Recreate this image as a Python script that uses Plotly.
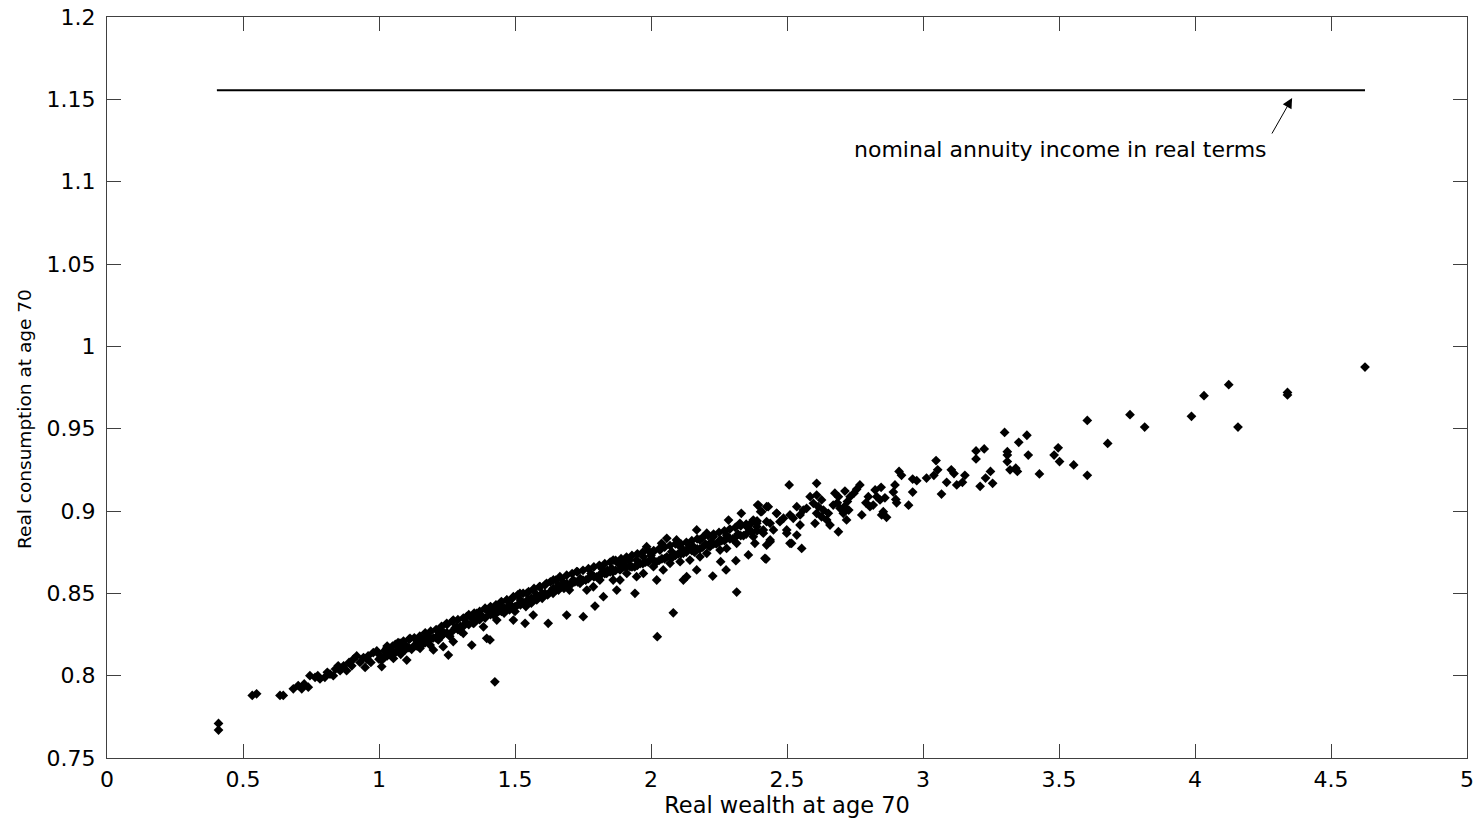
import plotly.graph_objects as go

# ---------------- data ----------------
# (real wealth at age 70, real consumption at age 70)
tail_low = [
    (0.41, 0.771), (0.41, 0.767), (0.534, 0.788), (0.55, 0.789), (0.636, 0.788),
    (0.648, 0.788), (0.685, 0.792), (0.703, 0.794), (0.716, 0.792), (0.725, 0.795),
    (0.74, 0.793), (0.746, 0.800), (0.765, 0.799), (0.775, 0.800), (0.783, 0.798),
    (0.801, 0.799), (0.81, 0.802), (0.82, 0.801), (0.832, 0.800), (0.84, 0.804),
    (0.85, 0.806), (0.857, 0.803), (0.87, 0.806), (0.881, 0.803), (0.89, 0.808),
    (0.90, 0.806), (0.906, 0.810), (0.918, 0.812), (0.93, 0.808), (0.943, 0.811),
    (0.949, 0.805), (0.955, 0.810), (0.96, 0.812), (0.97, 0.808), (0.979, 0.814),
    (0.992, 0.815),
]

band_1 = [
    (1.00, 0.813), (1.00, 0.810), (1.01, 0.8095), (1.01, 0.8055), (1.02, 0.815),
    (1.02, 0.811), (1.028, 0.8166), (1.04, 0.8136), (1.04, 0.816), (1.053, 0.8105),
    (1.06, 0.814), (1.06, 0.819), (1.077, 0.8197), (1.08, 0.817), (1.08, 0.813),
    (1.096, 0.8156), (1.10, 0.818), (1.102, 0.8095), (1.114, 0.8227), (1.12, 0.816),
    (1.126, 0.8176), (1.14, 0.821), (1.14, 0.818), (1.151, 0.8166), (1.16, 0.822),
    (1.16, 0.819), (1.175, 0.8217), (1.18, 0.824), (1.188, 0.8186), (1.20, 0.823),
    (1.20, 0.8156), (1.218, 0.8217), (1.224, 0.8277), (1.22, 0.825), (1.236, 0.8176),
    (1.24, 0.826), (1.249, 0.8318), (1.255, 0.8125), (1.26, 0.824), (1.273, 0.8338),
    (1.273, 0.8207), (1.28, 0.829), (1.285, 0.8297), (1.30, 0.830), (1.30, 0.827),
    (1.31, 0.8257), (1.322, 0.8358), (1.32, 0.832), (1.341, 0.8186), (1.347, 0.8318),
    (1.34, 0.835), (1.359, 0.8378), (1.36, 0.834), (1.384, 0.8297), (1.38, 0.836),
    (1.396, 0.8227), (1.408, 0.8217), (1.40, 0.839), (1.421, 0.8399), (1.426, 0.7963),
    (1.433, 0.8338), (1.42, 0.837),
]

band_2 = [
    (1.44, 0.839), (1.44, 0.842), (1.445, 0.8439), (1.46, 0.841), (1.46, 0.838),
    (1.47, 0.8459), (1.48, 0.840), (1.48, 0.843), (1.494, 0.848), (1.494, 0.8338),
    (1.50, 0.842), (1.50, 0.839), (1.518, 0.850), (1.52, 0.843), (1.52, 0.846),
    (1.537, 0.8318), (1.543, 0.850), (1.54, 0.845), (1.54, 0.842), (1.56, 0.847),
    (1.567, 0.8368), (1.567, 0.852), (1.56, 0.844), (1.58, 0.846), (1.592, 0.854),
    (1.58, 0.849), (1.60, 0.850), (1.60, 0.847), (1.616, 0.8561), (1.622, 0.8318),
    (1.62, 0.849), (1.64, 0.853), (1.641, 0.8581), (1.64, 0.850), (1.665, 0.8601),
    (1.66, 0.852), (1.66, 0.855), (1.68, 0.856), (1.69, 0.8368), (1.69, 0.8561),
    (1.68, 0.853), (1.70, 0.855), (1.714, 0.8581), (1.70, 0.852), (1.727, 0.8632),
    (1.72, 0.857), (1.739, 0.8561), (1.751, 0.8358), (1.74, 0.859), (1.764, 0.852),
    (1.76, 0.858), (1.776, 0.8601), (1.78, 0.862), (1.788, 0.854), (1.794, 0.8423),
    (1.80, 0.860), (1.812, 0.8581), (1.825, 0.848), (1.82, 0.862), (1.82, 0.865),
]

band_3 = [
    (1.837, 0.8621), (1.84, 0.864), (1.855, 0.8652), (1.861, 0.8702), (1.861, 0.8581),
    (1.874, 0.852), (1.86, 0.863), (1.886, 0.8642), (1.886, 0.8581), (1.88, 0.868),
    (1.898, 0.8682), (1.90, 0.866), (1.911, 0.8621), (1.92, 0.870), (1.923, 0.8662),
    (1.941, 0.850), (1.947, 0.8702), (1.947, 0.8601), (1.94, 0.866), (1.96, 0.868),
    (1.972, 0.8722), (1.972, 0.8621), (1.98, 0.869), (1.984, 0.8783), (1.996, 0.8702),
    (2.00, 0.873), (2.009, 0.8662), (2.009, 0.8753), (2.021, 0.8581), (2.023, 0.8237),
    (2.02, 0.869), (2.033, 0.8763), (2.039, 0.8804), (2.045, 0.8642), (2.04, 0.871),
    (2.058, 0.8834), (2.058, 0.8722), (2.07, 0.8682), (2.076, 0.8753), (2.082, 0.8382),
    (2.094, 0.8824), (2.08, 0.872), (2.107, 0.8783), (2.107, 0.8692), (2.10, 0.874),
    (2.119, 0.8743), (2.119, 0.8581), (2.131, 0.8601), (2.12, 0.876), (2.143, 0.8702),
    (2.14, 0.878), (2.156, 0.8783), (2.168, 0.8885), (2.168, 0.8642), (2.16, 0.875),
]

band_4 = [
    (2.18, 0.8824), (2.18, 0.8722), (2.18, 0.877), (2.205, 0.8865), (2.205, 0.8743),
    (2.20, 0.880), (2.217, 0.8783), (2.227, 0.8605), (2.229, 0.8844), (2.22, 0.881),
    (2.254, 0.8824), (2.254, 0.8763), (2.256, 0.8692), (2.24, 0.880), (2.276, 0.8642),
    (2.278, 0.8854), (2.278, 0.8773), (2.285, 0.8945), (2.26, 0.882), (2.28, 0.884),
    (2.312, 0.8698), (2.315, 0.8804), (2.315, 0.8508), (2.30, 0.883), (2.327, 0.8925),
    (2.332, 0.8986), (2.32, 0.886), (2.352, 0.8905), (2.358, 0.8733), (2.34, 0.885),
    (2.364, 0.8885), (2.376, 0.8844), (2.376, 0.8945), (2.382, 0.8804), (2.389, 0.8905),
    (2.389, 0.8925), (2.392, 0.9036), (2.395, 0.9036), (2.403, 0.8996), (2.407, 0.8996),
    (2.413, 0.8865), (2.413, 0.8885), (2.419, 0.8713), (2.423, 0.8708), (2.425, 0.8935),
    (2.425, 0.9026), (2.425, 0.8793), (2.431, 0.9026), (2.438, 0.8814), (2.438, 0.8925),
    (2.438, 0.8824), (2.45, 0.8885), (2.462, 0.8986), (2.462, 0.8986), (2.474, 0.8935),
]

band_5 = [
    (2.487, 0.8956), (2.499, 0.8885), (2.499, 0.8865), (2.508, 0.9158), (2.511, 0.8976),
    (2.511, 0.8804), (2.517, 0.8804), (2.523, 0.8956), (2.536, 0.9026), (2.536, 0.8854),
    (2.548, 0.8976), (2.548, 0.8915), (2.554, 0.8773), (2.56, 0.9006), (2.572, 0.9016),
    (2.585, 0.9087), (2.597, 0.9047), (2.603, 0.8925), (2.609, 0.9168), (2.609, 0.9097),
    (2.609, 0.8986), (2.615, 0.9026), (2.627, 0.9067), (2.627, 0.8965), (2.634, 0.9006),
    (2.646, 0.8946), (2.652, 0.8986), (2.658, 0.8915), (2.67, 0.9036), (2.676, 0.9108),
    (2.685, 0.905), (2.689, 0.9087), (2.689, 0.8874), (2.695, 0.9016), (2.707, 0.8986),
    (2.711, 0.9026), (2.713, 0.9121), (2.719, 0.8946), (2.722, 0.9057), (2.727, 0.9006),
    (2.732, 0.9087), (2.746, 0.9108), (2.756, 0.9132), (2.768, 0.9158), (2.775, 0.8976),
    (2.79, 0.905), (2.799, 0.9087), (2.805, 0.9026), (2.817, 0.9036), (2.824, 0.9128),
]

band_fill_a = [
    (1.03, 0.812), (1.03, 0.818), (1.05, 0.813), (1.05, 0.818), (1.07, 0.815),
    (1.07, 0.820), (1.09, 0.816), (1.09, 0.821), (1.11, 0.817), (1.11, 0.822),
    (1.13, 0.818), (1.13, 0.823), (1.15, 0.820), (1.15, 0.824), (1.17, 0.820),
    (1.17, 0.826), (1.19, 0.822), (1.19, 0.827), (1.21, 0.823), (1.21, 0.828),
    (1.23, 0.824), (1.23, 0.830), (1.25, 0.826), (1.25, 0.831), (1.27, 0.827),
    (1.27, 0.833), (1.29, 0.828), (1.29, 0.834), (1.31, 0.830), (1.31, 0.835),
    (1.33, 0.831), (1.33, 0.837), (1.35, 0.832), (1.35, 0.838), (1.37, 0.834),
    (1.37, 0.839), (1.39, 0.835), (1.39, 0.841), (1.41, 0.837), (1.41, 0.842),
    (1.43, 0.838), (1.43, 0.843), (1.45, 0.839), (1.45, 0.845), (1.47, 0.840),
    (1.47, 0.846), (1.49, 0.842), (1.49, 0.847), (1.51, 0.843), (1.51, 0.849),
    (1.53, 0.844), (1.53, 0.850), (1.55, 0.846), (1.55, 0.851), (1.57, 0.847),
    (1.57, 0.853), (1.59, 0.848), (1.59, 0.854), (1.61, 0.850), (1.61, 0.855),
    (1.63, 0.851), (1.63, 0.857), (1.65, 0.852), (1.65, 0.858), (1.67, 0.854),
    (1.67, 0.859), (1.69, 0.855), (1.69, 0.861),
]

band_fill_b = [
    (1.71, 0.856), (1.71, 0.862), (1.73, 0.857), (1.73, 0.863), (1.75, 0.858),
    (1.75, 0.864), (1.77, 0.859), (1.77, 0.865), (1.79, 0.860), (1.79, 0.866),
    (1.81, 0.861), (1.81, 0.867), (1.83, 0.862), (1.83, 0.868), (1.85, 0.863),
    (1.85, 0.869), (1.87, 0.864), (1.87, 0.870), (1.89, 0.865), (1.89, 0.871),
    (1.91, 0.866), (1.91, 0.872), (1.93, 0.866), (1.93, 0.873), (1.95, 0.867),
    (1.95, 0.874), (1.97, 0.868), (1.97, 0.875), (1.99, 0.869), (1.99, 0.876),
    (2.01, 0.870), (2.01, 0.876), (2.03, 0.870), (2.03, 0.877), (2.05, 0.871),
    (2.05, 0.878), (2.07, 0.872), (2.07, 0.879), (2.09, 0.873), (2.09, 0.880),
    (2.11, 0.874), (2.11, 0.880), (2.13, 0.875), (2.13, 0.881), (2.15, 0.876),
    (2.15, 0.882), (2.17, 0.877), (2.17, 0.883), (2.19, 0.878), (2.19, 0.884),
    (2.21, 0.879), (2.21, 0.885), (2.23, 0.880), (2.23, 0.886), (2.25, 0.881),
    (2.25, 0.887), (2.27, 0.882), (2.27, 0.888), (2.29, 0.883), (2.29, 0.889),
    (2.31, 0.884), (2.31, 0.890), (2.33, 0.885), (2.33, 0.891), (2.35, 0.886),
    (2.35, 0.892), (2.37, 0.887), (2.37, 0.893), (2.39, 0.888), (2.39, 0.894),
]

tail_high = [
    (2.83, 0.9087), (2.842, 0.9067), (2.846, 0.9144), (2.848, 0.8976), (2.854, 0.8996),
    (2.86, 0.908), (2.866, 0.8962), (2.891, 0.9115), (2.897, 0.9158), (2.90, 0.907),
    (2.903, 0.905), (2.912, 0.924), (2.921, 0.9217), (2.947, 0.9035), (2.962, 0.9194),
    (2.962, 0.9115), (2.977, 0.9184), (3.013, 0.920), (3.04, 0.9217), (3.048, 0.9306),
    (3.054, 0.925), (3.068, 0.9103), (3.087, 0.9174), (3.104, 0.925), (3.114, 0.9227),
    (3.124, 0.9158), (3.145, 0.9174), (3.154, 0.9217), (3.195, 0.9365), (3.195, 0.9316),
    (3.21, 0.915), (3.225, 0.9377), (3.23, 0.920), (3.248, 0.924), (3.256, 0.9168),
    (3.30, 0.9477), (3.31, 0.936), (3.31, 0.934), (3.31, 0.930), (3.32, 0.925),
    (3.341, 0.926), (3.347, 0.924), (3.352, 0.9417), (3.382, 0.946), (3.387, 0.934),
    (3.428, 0.9225), (3.482, 0.934), (3.497, 0.9384), (3.502, 0.930), (3.554, 0.928),
    (3.604, 0.955), (3.604, 0.9217), (3.679, 0.941), (3.761, 0.9585), (3.815, 0.951),
    (3.987, 0.9575), (4.033, 0.970), (4.124, 0.9767), (4.158, 0.951), (4.34, 0.972),
    (4.34, 0.9705), (4.625, 0.9874),
]

# horizontal reference line: nominal annuity income in real terms
annuity_wealth = [0.404, 4.625]
annuity_income = [1.1555, 1.1555]

x_ticks = [0, 0.5, 1, 1.5, 2, 2.5, 3, 3.5, 4, 4.5, 5]
x_tick_text = ["0", "0.5", "1", "1.5", "2", "2.5", "3", "3.5", "4", "4.5", "5"]
y_ticks = [0.75, 0.8, 0.85, 0.9, 0.95, 1.0, 1.05, 1.1, 1.15, 1.2]
y_tick_text = ["0.75", "0.8", "0.85", "0.9", "0.95", "1", "1.05", "1.1", "1.15", "1.2"]

# ---------------- figure ----------------
segments = [tail_low, band_1, band_2, band_3, band_4, band_5,
            band_fill_a, band_fill_b, tail_high]
wealth = [p[0] for seg in segments for p in seg]
consumption = [p[1] for seg in segments for p in seg]

FONT = "DejaVu Sans"
fig = go.Figure()
fig.add_trace(go.Scatter(
    x=wealth, y=consumption, mode="markers",
    marker=dict(symbol="diamond", size=7.5, color="black", line=dict(width=0)),
    showlegend=False, hoverinfo="skip",
))
fig.add_trace(go.Scatter(
    x=annuity_wealth, y=annuity_income, mode="lines",
    line=dict(color="black", width=2), showlegend=False, hoverinfo="skip",
))

axis_common = dict(
    showgrid=False, zeroline=False, showline=True, linecolor="#404040", linewidth=1,
    mirror="allticks", ticks="inside", ticklen=14, tickcolor="#404040", tickwidth=1,
    tickfont=dict(family=FONT, size=22, color="black"), automargin=False,
)
fig.update_xaxes(range=[0, 5], tickvals=x_ticks, ticktext=x_tick_text,
                 title=dict(text="Real wealth at age 70", font=dict(family=FONT, size=22.5, color="black"), standoff=4),
                 ticklabelstandoff=2, **axis_common)
fig.update_yaxes(range=[0.75, 1.2], tickvals=y_ticks, ticktext=y_tick_text,
                 ticklabelstandoff=6, **axis_common)

# y-axis title placed as rotated text (centred where the reference has it)
fig.add_annotation(xref="paper", yref="paper", x=-0.0603, y=0.4575,
                   text="Real consumption at age 70", textangle=-90, showarrow=False,
                   xanchor="center", yanchor="middle",
                   font=dict(family=FONT, size=18.5, color="black"))

fig.add_annotation(x=4.357, y=1.1508, ax=-21, ay=37, text="", showarrow=True,
                   arrowhead=2, arrowsize=2, arrowwidth=1, arrowcolor="black",
                   xref="x", yref="y")
fig.add_annotation(x=3.507, y=1.1198, text="nominal annuity income in real terms",
                   showarrow=False, xanchor="center", yanchor="middle",
                   font=dict(family=FONT, size=22, color="black"))

fig.update_layout(
    width=1481, height=823, margin=dict(l=107, r=14, t=17, b=65),
    paper_bgcolor="white", plot_bgcolor="white",
)
fig.write_html("out.html")
